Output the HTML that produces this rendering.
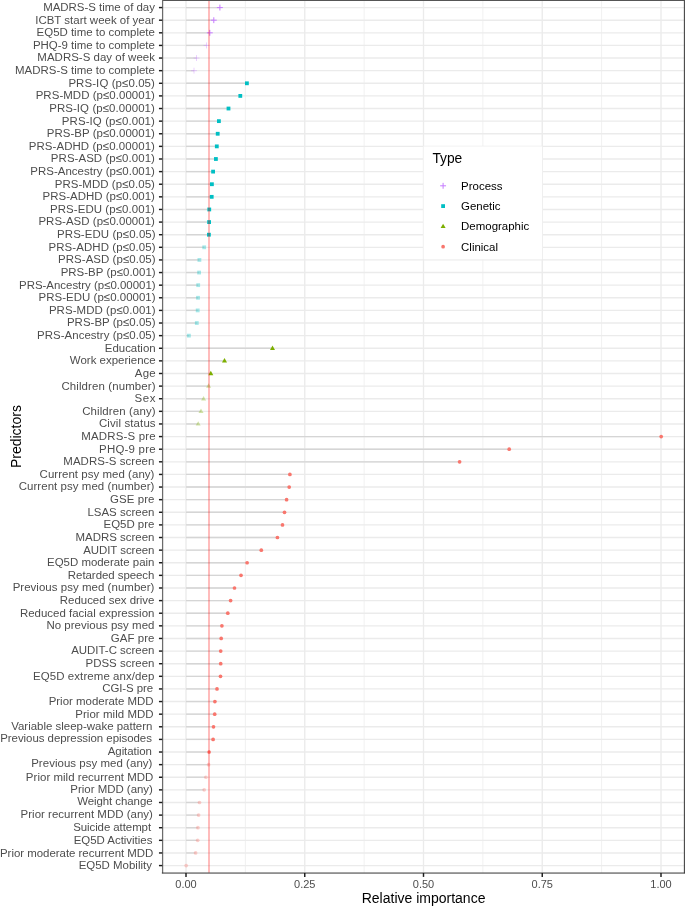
<!DOCTYPE html><html><head><meta charset="utf-8"><style>html,body{margin:0;padding:0;background:#fff}svg{display:block;will-change:transform}text{font-family:"Liberation Sans",sans-serif}</style></head><body>
<svg width="685" height="906" viewBox="0 0 685 906">
<rect width="685" height="906" fill="#fff"/>
<g stroke="#ebebeb" fill="none">
<line x1="245.38" x2="245.38" y1="0.2" y2="872.8" stroke-width="0.68"/>
<line x1="364.12" x2="364.12" y1="0.2" y2="872.8" stroke-width="0.68"/>
<line x1="482.88" x2="482.88" y1="0.2" y2="872.8" stroke-width="0.68"/>
<line x1="601.62" x2="601.62" y1="0.2" y2="872.8" stroke-width="0.68"/>
<line x1="186.00" x2="186.00" y1="0.2" y2="872.8" stroke-width="1.36"/>
<line x1="304.75" x2="304.75" y1="0.2" y2="872.8" stroke-width="1.36"/>
<line x1="423.50" x2="423.50" y1="0.2" y2="872.8" stroke-width="1.36"/>
<line x1="542.25" x2="542.25" y1="0.2" y2="872.8" stroke-width="1.36"/>
<line x1="661.00" x2="661.00" y1="0.2" y2="872.8" stroke-width="1.36"/>
<line x1="162.6" x2="684.6" y1="7.58" y2="7.58" stroke-width="1.36"/>
<line x1="162.6" x2="684.6" y1="20.20" y2="20.20" stroke-width="1.36"/>
<line x1="162.6" x2="684.6" y1="32.82" y2="32.82" stroke-width="1.36"/>
<line x1="162.6" x2="684.6" y1="45.43" y2="45.43" stroke-width="1.36"/>
<line x1="162.6" x2="684.6" y1="58.05" y2="58.05" stroke-width="1.36"/>
<line x1="162.6" x2="684.6" y1="70.67" y2="70.67" stroke-width="1.36"/>
<line x1="162.6" x2="684.6" y1="83.29" y2="83.29" stroke-width="1.36"/>
<line x1="162.6" x2="684.6" y1="95.90" y2="95.90" stroke-width="1.36"/>
<line x1="162.6" x2="684.6" y1="108.52" y2="108.52" stroke-width="1.36"/>
<line x1="162.6" x2="684.6" y1="121.14" y2="121.14" stroke-width="1.36"/>
<line x1="162.6" x2="684.6" y1="133.76" y2="133.76" stroke-width="1.36"/>
<line x1="162.6" x2="684.6" y1="146.37" y2="146.37" stroke-width="1.36"/>
<line x1="162.6" x2="684.6" y1="158.99" y2="158.99" stroke-width="1.36"/>
<line x1="162.6" x2="684.6" y1="171.61" y2="171.61" stroke-width="1.36"/>
<line x1="162.6" x2="684.6" y1="184.23" y2="184.23" stroke-width="1.36"/>
<line x1="162.6" x2="684.6" y1="196.84" y2="196.84" stroke-width="1.36"/>
<line x1="162.6" x2="684.6" y1="209.46" y2="209.46" stroke-width="1.36"/>
<line x1="162.6" x2="684.6" y1="222.08" y2="222.08" stroke-width="1.36"/>
<line x1="162.6" x2="684.6" y1="234.70" y2="234.70" stroke-width="1.36"/>
<line x1="162.6" x2="684.6" y1="247.31" y2="247.31" stroke-width="1.36"/>
<line x1="162.6" x2="684.6" y1="259.93" y2="259.93" stroke-width="1.36"/>
<line x1="162.6" x2="684.6" y1="272.55" y2="272.55" stroke-width="1.36"/>
<line x1="162.6" x2="684.6" y1="285.17" y2="285.17" stroke-width="1.36"/>
<line x1="162.6" x2="684.6" y1="297.78" y2="297.78" stroke-width="1.36"/>
<line x1="162.6" x2="684.6" y1="310.40" y2="310.40" stroke-width="1.36"/>
<line x1="162.6" x2="684.6" y1="323.02" y2="323.02" stroke-width="1.36"/>
<line x1="162.6" x2="684.6" y1="335.64" y2="335.64" stroke-width="1.36"/>
<line x1="162.6" x2="684.6" y1="348.26" y2="348.26" stroke-width="1.36"/>
<line x1="162.6" x2="684.6" y1="360.87" y2="360.87" stroke-width="1.36"/>
<line x1="162.6" x2="684.6" y1="373.49" y2="373.49" stroke-width="1.36"/>
<line x1="162.6" x2="684.6" y1="386.11" y2="386.11" stroke-width="1.36"/>
<line x1="162.6" x2="684.6" y1="398.73" y2="398.73" stroke-width="1.36"/>
<line x1="162.6" x2="684.6" y1="411.34" y2="411.34" stroke-width="1.36"/>
<line x1="162.6" x2="684.6" y1="423.96" y2="423.96" stroke-width="1.36"/>
<line x1="162.6" x2="684.6" y1="436.58" y2="436.58" stroke-width="1.36"/>
<line x1="162.6" x2="684.6" y1="449.20" y2="449.20" stroke-width="1.36"/>
<line x1="162.6" x2="684.6" y1="461.81" y2="461.81" stroke-width="1.36"/>
<line x1="162.6" x2="684.6" y1="474.43" y2="474.43" stroke-width="1.36"/>
<line x1="162.6" x2="684.6" y1="487.05" y2="487.05" stroke-width="1.36"/>
<line x1="162.6" x2="684.6" y1="499.67" y2="499.67" stroke-width="1.36"/>
<line x1="162.6" x2="684.6" y1="512.28" y2="512.28" stroke-width="1.36"/>
<line x1="162.6" x2="684.6" y1="524.90" y2="524.90" stroke-width="1.36"/>
<line x1="162.6" x2="684.6" y1="537.52" y2="537.52" stroke-width="1.36"/>
<line x1="162.6" x2="684.6" y1="550.14" y2="550.14" stroke-width="1.36"/>
<line x1="162.6" x2="684.6" y1="562.75" y2="562.75" stroke-width="1.36"/>
<line x1="162.6" x2="684.6" y1="575.37" y2="575.37" stroke-width="1.36"/>
<line x1="162.6" x2="684.6" y1="587.99" y2="587.99" stroke-width="1.36"/>
<line x1="162.6" x2="684.6" y1="600.61" y2="600.61" stroke-width="1.36"/>
<line x1="162.6" x2="684.6" y1="613.22" y2="613.22" stroke-width="1.36"/>
<line x1="162.6" x2="684.6" y1="625.84" y2="625.84" stroke-width="1.36"/>
<line x1="162.6" x2="684.6" y1="638.46" y2="638.46" stroke-width="1.36"/>
<line x1="162.6" x2="684.6" y1="651.08" y2="651.08" stroke-width="1.36"/>
<line x1="162.6" x2="684.6" y1="663.70" y2="663.70" stroke-width="1.36"/>
<line x1="162.6" x2="684.6" y1="676.31" y2="676.31" stroke-width="1.36"/>
<line x1="162.6" x2="684.6" y1="688.93" y2="688.93" stroke-width="1.36"/>
<line x1="162.6" x2="684.6" y1="701.55" y2="701.55" stroke-width="1.36"/>
<line x1="162.6" x2="684.6" y1="714.17" y2="714.17" stroke-width="1.36"/>
<line x1="162.6" x2="684.6" y1="726.78" y2="726.78" stroke-width="1.36"/>
<line x1="162.6" x2="684.6" y1="739.40" y2="739.40" stroke-width="1.36"/>
<line x1="162.6" x2="684.6" y1="752.02" y2="752.02" stroke-width="1.36"/>
<line x1="162.6" x2="684.6" y1="764.64" y2="764.64" stroke-width="1.36"/>
<line x1="162.6" x2="684.6" y1="777.25" y2="777.25" stroke-width="1.36"/>
<line x1="162.6" x2="684.6" y1="789.87" y2="789.87" stroke-width="1.36"/>
<line x1="162.6" x2="684.6" y1="802.49" y2="802.49" stroke-width="1.36"/>
<line x1="162.6" x2="684.6" y1="815.11" y2="815.11" stroke-width="1.36"/>
<line x1="162.6" x2="684.6" y1="827.72" y2="827.72" stroke-width="1.36"/>
<line x1="162.6" x2="684.6" y1="840.34" y2="840.34" stroke-width="1.36"/>
<line x1="162.6" x2="684.6" y1="852.96" y2="852.96" stroke-width="1.36"/>
<line x1="162.6" x2="684.6" y1="865.58" y2="865.58" stroke-width="1.36"/>
</g>
<g stroke="#d5d5d5" stroke-width="1.36">
<line x1="186.0" x2="219.90" y1="7.58" y2="7.58"/>
<line x1="186.0" x2="213.80" y1="20.20" y2="20.20"/>
<line x1="186.0" x2="209.80" y1="32.82" y2="32.82"/>
<line x1="186.0" x2="206.50" y1="45.43" y2="45.43"/>
<line x1="186.0" x2="196.50" y1="58.05" y2="58.05"/>
<line x1="186.0" x2="194.00" y1="70.67" y2="70.67"/>
<line x1="186.0" x2="246.90" y1="83.29" y2="83.29"/>
<line x1="186.0" x2="240.30" y1="95.90" y2="95.90"/>
<line x1="186.0" x2="228.50" y1="108.52" y2="108.52"/>
<line x1="186.0" x2="218.90" y1="121.14" y2="121.14"/>
<line x1="186.0" x2="217.70" y1="133.76" y2="133.76"/>
<line x1="186.0" x2="216.80" y1="146.37" y2="146.37"/>
<line x1="186.0" x2="215.90" y1="158.99" y2="158.99"/>
<line x1="186.0" x2="213.10" y1="171.61" y2="171.61"/>
<line x1="186.0" x2="211.90" y1="184.23" y2="184.23"/>
<line x1="186.0" x2="211.70" y1="196.84" y2="196.84"/>
<line x1="186.0" x2="209.25" y1="209.46" y2="209.46"/>
<line x1="186.0" x2="209.10" y1="222.08" y2="222.08"/>
<line x1="186.0" x2="208.90" y1="234.70" y2="234.70"/>
<line x1="186.0" x2="204.20" y1="247.31" y2="247.31"/>
<line x1="186.0" x2="199.40" y1="259.93" y2="259.93"/>
<line x1="186.0" x2="199.10" y1="272.55" y2="272.55"/>
<line x1="186.0" x2="198.20" y1="285.17" y2="285.17"/>
<line x1="186.0" x2="198.00" y1="297.78" y2="297.78"/>
<line x1="186.0" x2="197.70" y1="310.40" y2="310.40"/>
<line x1="186.0" x2="196.80" y1="323.02" y2="323.02"/>
<line x1="186.0" x2="188.90" y1="335.64" y2="335.64"/>
<line x1="186.0" x2="272.50" y1="348.26" y2="348.26"/>
<line x1="186.0" x2="224.50" y1="360.87" y2="360.87"/>
<line x1="186.0" x2="210.80" y1="373.49" y2="373.49"/>
<line x1="186.0" x2="208.60" y1="386.11" y2="386.11"/>
<line x1="186.0" x2="203.60" y1="398.73" y2="398.73"/>
<line x1="186.0" x2="201.00" y1="411.34" y2="411.34"/>
<line x1="186.0" x2="198.20" y1="423.96" y2="423.96"/>
<line x1="186.0" x2="661.20" y1="436.58" y2="436.58"/>
<line x1="186.0" x2="509.20" y1="449.20" y2="449.20"/>
<line x1="186.0" x2="459.60" y1="461.81" y2="461.81"/>
<line x1="186.0" x2="289.90" y1="474.43" y2="474.43"/>
<line x1="186.0" x2="289.20" y1="487.05" y2="487.05"/>
<line x1="186.0" x2="286.60" y1="499.67" y2="499.67"/>
<line x1="186.0" x2="284.50" y1="512.28" y2="512.28"/>
<line x1="186.0" x2="282.50" y1="524.90" y2="524.90"/>
<line x1="186.0" x2="277.40" y1="537.52" y2="537.52"/>
<line x1="186.0" x2="261.30" y1="550.14" y2="550.14"/>
<line x1="186.0" x2="247.10" y1="562.75" y2="562.75"/>
<line x1="186.0" x2="241.00" y1="575.37" y2="575.37"/>
<line x1="186.0" x2="234.50" y1="587.99" y2="587.99"/>
<line x1="186.0" x2="230.60" y1="600.61" y2="600.61"/>
<line x1="186.0" x2="227.80" y1="613.22" y2="613.22"/>
<line x1="186.0" x2="221.90" y1="625.84" y2="625.84"/>
<line x1="186.0" x2="221.20" y1="638.46" y2="638.46"/>
<line x1="186.0" x2="220.70" y1="651.08" y2="651.08"/>
<line x1="186.0" x2="220.70" y1="663.70" y2="663.70"/>
<line x1="186.0" x2="220.50" y1="676.31" y2="676.31"/>
<line x1="186.0" x2="217.00" y1="688.93" y2="688.93"/>
<line x1="186.0" x2="214.90" y1="701.55" y2="701.55"/>
<line x1="186.0" x2="214.70" y1="714.17" y2="714.17"/>
<line x1="186.0" x2="213.50" y1="726.78" y2="726.78"/>
<line x1="186.0" x2="213.10" y1="739.40" y2="739.40"/>
<line x1="186.0" x2="209.10" y1="752.02" y2="752.02"/>
<line x1="186.0" x2="208.60" y1="764.64" y2="764.64"/>
<line x1="186.0" x2="205.90" y1="777.25" y2="777.25"/>
<line x1="186.0" x2="204.20" y1="789.87" y2="789.87"/>
<line x1="186.0" x2="199.50" y1="802.49" y2="802.49"/>
<line x1="186.0" x2="198.60" y1="815.11" y2="815.11"/>
<line x1="186.0" x2="197.90" y1="827.72" y2="827.72"/>
<line x1="186.0" x2="197.70" y1="840.34" y2="840.34"/>
<line x1="186.0" x2="195.60" y1="852.96" y2="852.96"/>
</g>
<path d="M216.95 7.58H222.85M219.90 4.63V10.53" stroke="#C77CFF" stroke-width="1.0" fill="none"/>
<path d="M210.85 20.20H216.75M213.80 17.25V23.15" stroke="#C77CFF" stroke-width="1.0" fill="none"/>
<path d="M206.85 32.82H212.75M209.80 29.87V35.77" stroke="#C77CFF" stroke-width="1.0" fill="none"/>
<path d="M203.55 45.43H209.45M206.50 42.48V48.38" stroke="#C77CFF" stroke-width="1.0" fill="none" opacity="0.35"/>
<path d="M193.55 58.05H199.45M196.50 55.10V61.00" stroke="#C77CFF" stroke-width="1.0" fill="none" opacity="0.35"/>
<path d="M191.05 70.67H196.95M194.00 67.72V73.62" stroke="#C77CFF" stroke-width="1.0" fill="none" opacity="0.35"/>
<rect x="245.00" y="81.39" width="3.8" height="3.8" fill="#00BFC4"/>
<rect x="238.40" y="94.00" width="3.8" height="3.8" fill="#00BFC4"/>
<rect x="226.60" y="106.62" width="3.8" height="3.8" fill="#00BFC4"/>
<rect x="217.00" y="119.24" width="3.8" height="3.8" fill="#00BFC4"/>
<rect x="215.80" y="131.86" width="3.8" height="3.8" fill="#00BFC4"/>
<rect x="214.90" y="144.47" width="3.8" height="3.8" fill="#00BFC4"/>
<rect x="214.00" y="157.09" width="3.8" height="3.8" fill="#00BFC4"/>
<rect x="211.20" y="169.71" width="3.8" height="3.8" fill="#00BFC4"/>
<rect x="210.00" y="182.33" width="3.8" height="3.8" fill="#00BFC4"/>
<rect x="209.80" y="194.94" width="3.8" height="3.8" fill="#00BFC4"/>
<rect x="207.35" y="207.56" width="3.8" height="3.8" fill="#00BFC4"/>
<rect x="207.20" y="220.18" width="3.8" height="3.8" fill="#00BFC4"/>
<rect x="207.00" y="232.80" width="3.8" height="3.8" fill="#00BFC4"/>
<rect x="202.30" y="245.41" width="3.8" height="3.8" fill="#00BFC4" opacity="0.35"/>
<rect x="197.50" y="258.03" width="3.8" height="3.8" fill="#00BFC4" opacity="0.35"/>
<rect x="197.20" y="270.65" width="3.8" height="3.8" fill="#00BFC4" opacity="0.35"/>
<rect x="196.30" y="283.27" width="3.8" height="3.8" fill="#00BFC4" opacity="0.35"/>
<rect x="196.10" y="295.88" width="3.8" height="3.8" fill="#00BFC4" opacity="0.35"/>
<rect x="195.80" y="308.50" width="3.8" height="3.8" fill="#00BFC4" opacity="0.35"/>
<rect x="194.90" y="321.12" width="3.8" height="3.8" fill="#00BFC4" opacity="0.35"/>
<rect x="187.00" y="333.74" width="3.8" height="3.8" fill="#00BFC4" opacity="0.35"/>
<path d="M272.50 345.51L275.00 349.91H270.00Z" fill="#7CAE00"/>
<path d="M224.50 358.12L227.00 362.52H222.00Z" fill="#7CAE00"/>
<path d="M210.80 370.74L213.30 375.14H208.30Z" fill="#7CAE00"/>
<path d="M208.60 383.36L211.10 387.76H206.10Z" fill="#7CAE00" opacity="0.35"/>
<path d="M203.60 395.98L206.10 400.38H201.10Z" fill="#7CAE00" opacity="0.35"/>
<path d="M201.00 408.59L203.50 412.99H198.50Z" fill="#7CAE00" opacity="0.35"/>
<path d="M198.20 421.21L200.70 425.61H195.70Z" fill="#7CAE00" opacity="0.35"/>
<circle cx="661.20" cy="436.58" r="1.85" fill="#F8766D"/>
<circle cx="509.20" cy="449.20" r="1.85" fill="#F8766D"/>
<circle cx="459.60" cy="461.81" r="1.85" fill="#F8766D"/>
<circle cx="289.90" cy="474.43" r="1.85" fill="#F8766D"/>
<circle cx="289.20" cy="487.05" r="1.85" fill="#F8766D"/>
<circle cx="286.60" cy="499.67" r="1.85" fill="#F8766D"/>
<circle cx="284.50" cy="512.28" r="1.85" fill="#F8766D"/>
<circle cx="282.50" cy="524.90" r="1.85" fill="#F8766D"/>
<circle cx="277.40" cy="537.52" r="1.85" fill="#F8766D"/>
<circle cx="261.30" cy="550.14" r="1.85" fill="#F8766D"/>
<circle cx="247.10" cy="562.75" r="1.85" fill="#F8766D"/>
<circle cx="241.00" cy="575.37" r="1.85" fill="#F8766D"/>
<circle cx="234.50" cy="587.99" r="1.85" fill="#F8766D"/>
<circle cx="230.60" cy="600.61" r="1.85" fill="#F8766D"/>
<circle cx="227.80" cy="613.22" r="1.85" fill="#F8766D"/>
<circle cx="221.90" cy="625.84" r="1.85" fill="#F8766D"/>
<circle cx="221.20" cy="638.46" r="1.85" fill="#F8766D"/>
<circle cx="220.70" cy="651.08" r="1.85" fill="#F8766D"/>
<circle cx="220.70" cy="663.70" r="1.85" fill="#F8766D"/>
<circle cx="220.50" cy="676.31" r="1.85" fill="#F8766D"/>
<circle cx="217.00" cy="688.93" r="1.85" fill="#F8766D"/>
<circle cx="214.90" cy="701.55" r="1.85" fill="#F8766D"/>
<circle cx="214.70" cy="714.17" r="1.85" fill="#F8766D"/>
<circle cx="213.50" cy="726.78" r="1.85" fill="#F8766D"/>
<circle cx="213.10" cy="739.40" r="1.85" fill="#F8766D"/>
<circle cx="209.10" cy="752.02" r="1.85" fill="#F8766D"/>
<circle cx="208.60" cy="764.64" r="1.85" fill="#F8766D" opacity="0.35"/>
<circle cx="205.90" cy="777.25" r="1.85" fill="#F8766D" opacity="0.35"/>
<circle cx="204.20" cy="789.87" r="1.85" fill="#F8766D" opacity="0.35"/>
<circle cx="199.50" cy="802.49" r="1.85" fill="#F8766D" opacity="0.35"/>
<circle cx="198.60" cy="815.11" r="1.85" fill="#F8766D" opacity="0.35"/>
<circle cx="197.90" cy="827.72" r="1.85" fill="#F8766D" opacity="0.35"/>
<circle cx="197.70" cy="840.34" r="1.85" fill="#F8766D" opacity="0.35"/>
<circle cx="195.60" cy="852.96" r="1.85" fill="#F8766D" opacity="0.35"/>
<circle cx="186.20" cy="865.58" r="1.85" fill="#F8766D" opacity="0.35"/>
<line x1="209" x2="209" y1="0.2" y2="872.8" stroke="#ff0000" stroke-opacity="0.28" stroke-width="1.9"/>
<rect x="423.6" y="146.4" width="118.6" height="112.8" fill="#fff"/>
<text x="432.4" y="163.3" font-size="14.0" fill="#000" textLength="29.9" lengthAdjust="spacingAndGlyphs">Type</text>
<path d="M440.15 185.80H446.05M443.10 182.85V188.75" stroke="#C77CFF" stroke-width="1.0" fill="none"/>
<text x="461.1" y="189.70" font-size="11.46" fill="#000">Process</text>
<rect x="441.20" y="204.20" width="3.8" height="3.8" fill="#00BFC4"/>
<text x="461.1" y="210.00" font-size="11.46" fill="#000">Genetic</text>
<path d="M443.10 223.65L445.60 228.05H440.60Z" fill="#7CAE00"/>
<text x="461.1" y="230.30" font-size="11.46" fill="#000">Demographic</text>
<circle cx="443.10" cy="246.70" r="1.85" fill="#F8766D"/>
<text x="461.1" y="250.60" font-size="11.46" fill="#000">Clinical</text>
<line x1="162.0" x2="685" y1="0.25" y2="0.25" stroke="#555" stroke-width="1.5"/>
<line x1="684.6" x2="684.6" y1="0" y2="873.3499999999999" stroke="#4d4d4d" stroke-width="1.5"/>
<line x1="162.6" x2="162.6" y1="0" y2="873.3499999999999" stroke="#6c6c6c" stroke-width="1.25"/>
<line x1="161.85" x2="685" y1="873.05" y2="873.05" stroke="#333" stroke-width="1.0"/>
<g stroke="#1c1c1c" stroke-width="1.45">
<line x1="158.95" x2="162.30" y1="7.58" y2="7.58"/>
<line x1="158.95" x2="162.30" y1="20.20" y2="20.20"/>
<line x1="158.95" x2="162.30" y1="32.82" y2="32.82"/>
<line x1="158.95" x2="162.30" y1="45.43" y2="45.43"/>
<line x1="158.95" x2="162.30" y1="58.05" y2="58.05"/>
<line x1="158.95" x2="162.30" y1="70.67" y2="70.67"/>
<line x1="158.95" x2="162.30" y1="83.29" y2="83.29"/>
<line x1="158.95" x2="162.30" y1="95.90" y2="95.90"/>
<line x1="158.95" x2="162.30" y1="108.52" y2="108.52"/>
<line x1="158.95" x2="162.30" y1="121.14" y2="121.14"/>
<line x1="158.95" x2="162.30" y1="133.76" y2="133.76"/>
<line x1="158.95" x2="162.30" y1="146.37" y2="146.37"/>
<line x1="158.95" x2="162.30" y1="158.99" y2="158.99"/>
<line x1="158.95" x2="162.30" y1="171.61" y2="171.61"/>
<line x1="158.95" x2="162.30" y1="184.23" y2="184.23"/>
<line x1="158.95" x2="162.30" y1="196.84" y2="196.84"/>
<line x1="158.95" x2="162.30" y1="209.46" y2="209.46"/>
<line x1="158.95" x2="162.30" y1="222.08" y2="222.08"/>
<line x1="158.95" x2="162.30" y1="234.70" y2="234.70"/>
<line x1="158.95" x2="162.30" y1="247.31" y2="247.31"/>
<line x1="158.95" x2="162.30" y1="259.93" y2="259.93"/>
<line x1="158.95" x2="162.30" y1="272.55" y2="272.55"/>
<line x1="158.95" x2="162.30" y1="285.17" y2="285.17"/>
<line x1="158.95" x2="162.30" y1="297.78" y2="297.78"/>
<line x1="158.95" x2="162.30" y1="310.40" y2="310.40"/>
<line x1="158.95" x2="162.30" y1="323.02" y2="323.02"/>
<line x1="158.95" x2="162.30" y1="335.64" y2="335.64"/>
<line x1="158.95" x2="162.30" y1="348.26" y2="348.26"/>
<line x1="158.95" x2="162.30" y1="360.87" y2="360.87"/>
<line x1="158.95" x2="162.30" y1="373.49" y2="373.49"/>
<line x1="158.95" x2="162.30" y1="386.11" y2="386.11"/>
<line x1="158.95" x2="162.30" y1="398.73" y2="398.73"/>
<line x1="158.95" x2="162.30" y1="411.34" y2="411.34"/>
<line x1="158.95" x2="162.30" y1="423.96" y2="423.96"/>
<line x1="158.95" x2="162.30" y1="436.58" y2="436.58"/>
<line x1="158.95" x2="162.30" y1="449.20" y2="449.20"/>
<line x1="158.95" x2="162.30" y1="461.81" y2="461.81"/>
<line x1="158.95" x2="162.30" y1="474.43" y2="474.43"/>
<line x1="158.95" x2="162.30" y1="487.05" y2="487.05"/>
<line x1="158.95" x2="162.30" y1="499.67" y2="499.67"/>
<line x1="158.95" x2="162.30" y1="512.28" y2="512.28"/>
<line x1="158.95" x2="162.30" y1="524.90" y2="524.90"/>
<line x1="158.95" x2="162.30" y1="537.52" y2="537.52"/>
<line x1="158.95" x2="162.30" y1="550.14" y2="550.14"/>
<line x1="158.95" x2="162.30" y1="562.75" y2="562.75"/>
<line x1="158.95" x2="162.30" y1="575.37" y2="575.37"/>
<line x1="158.95" x2="162.30" y1="587.99" y2="587.99"/>
<line x1="158.95" x2="162.30" y1="600.61" y2="600.61"/>
<line x1="158.95" x2="162.30" y1="613.22" y2="613.22"/>
<line x1="158.95" x2="162.30" y1="625.84" y2="625.84"/>
<line x1="158.95" x2="162.30" y1="638.46" y2="638.46"/>
<line x1="158.95" x2="162.30" y1="651.08" y2="651.08"/>
<line x1="158.95" x2="162.30" y1="663.70" y2="663.70"/>
<line x1="158.95" x2="162.30" y1="676.31" y2="676.31"/>
<line x1="158.95" x2="162.30" y1="688.93" y2="688.93"/>
<line x1="158.95" x2="162.30" y1="701.55" y2="701.55"/>
<line x1="158.95" x2="162.30" y1="714.17" y2="714.17"/>
<line x1="158.95" x2="162.30" y1="726.78" y2="726.78"/>
<line x1="158.95" x2="162.30" y1="739.40" y2="739.40"/>
<line x1="158.95" x2="162.30" y1="752.02" y2="752.02"/>
<line x1="158.95" x2="162.30" y1="764.64" y2="764.64"/>
<line x1="158.95" x2="162.30" y1="777.25" y2="777.25"/>
<line x1="158.95" x2="162.30" y1="789.87" y2="789.87"/>
<line x1="158.95" x2="162.30" y1="802.49" y2="802.49"/>
<line x1="158.95" x2="162.30" y1="815.11" y2="815.11"/>
<line x1="158.95" x2="162.30" y1="827.72" y2="827.72"/>
<line x1="158.95" x2="162.30" y1="840.34" y2="840.34"/>
<line x1="158.95" x2="162.30" y1="852.96" y2="852.96"/>
<line x1="158.95" x2="162.30" y1="865.58" y2="865.58"/>
<line x1="186.00" x2="186.00" y1="873.00" y2="876.90"/>
<line x1="304.75" x2="304.75" y1="873.00" y2="876.90"/>
<line x1="423.50" x2="423.50" y1="873.00" y2="876.90"/>
<line x1="542.25" x2="542.25" y1="873.00" y2="876.90"/>
<line x1="661.00" x2="661.00" y1="873.00" y2="876.90"/>
</g>
<g font-size="11.46" fill="#4d4d4d" text-anchor="end">
<text x="154.90" y="10.98" textLength="111.72" lengthAdjust="spacing">MADRS-S time of day</text>
<text x="154.90" y="23.60" textLength="119.65" lengthAdjust="spacing">ICBT start week of year</text>
<text x="154.90" y="36.22" textLength="118.31" lengthAdjust="spacing">EQ5D time to complete</text>
<text x="154.90" y="48.83" textLength="121.92" lengthAdjust="spacing">PHQ-9 time to complete</text>
<text x="154.90" y="61.45" textLength="117.53" lengthAdjust="spacing">MADRS-S day of week</text>
<text x="154.90" y="74.07" textLength="139.83" lengthAdjust="spacing">MADRS-S time to complete</text>
<text x="154.90" y="86.69" textLength="86.52" lengthAdjust="spacing">PRS-IQ (p≤0.05)</text>
<text x="154.90" y="99.30" textLength="119.21" lengthAdjust="spacing">PRS-MDD (p≤0.00001)</text>
<text x="154.90" y="111.92" textLength="105.73" lengthAdjust="spacing">PRS-IQ (p≤0.00001)</text>
<text x="154.90" y="124.54" textLength="93.09" lengthAdjust="spacing">PRS-IQ (p≤0.001)</text>
<text x="154.90" y="137.16" textLength="108.21" lengthAdjust="spacing">PRS-BP (p≤0.00001)</text>
<text x="154.90" y="149.77" textLength="126.09" lengthAdjust="spacing">PRS-ADHD (p≤0.00001)</text>
<text x="154.90" y="162.39" textLength="104.05" lengthAdjust="spacing">PRS-ASD (p≤0.001)</text>
<text x="154.90" y="175.01" textLength="124.65" lengthAdjust="spacing">PRS-Ancestry (p≤0.001)</text>
<text x="154.90" y="187.63" textLength="100.20" lengthAdjust="spacing">PRS-MDD (p≤0.05)</text>
<text x="154.90" y="200.24" textLength="112.35" lengthAdjust="spacing">PRS-ADHD (p≤0.001)</text>
<text x="154.90" y="212.86" textLength="104.87" lengthAdjust="spacing">PRS-EDU (p≤0.001)</text>
<text x="154.90" y="225.48" textLength="116.48" lengthAdjust="spacing">PRS-ASD (p≤0.00001)</text>
<text x="155.60" y="238.10" textLength="98.51" lengthAdjust="spacing">PRS-EDU (p≤0.05)</text>
<text x="155.60" y="250.71" textLength="107.18" lengthAdjust="spacing">PRS-ADHD (p≤0.05)</text>
<text x="155.60" y="263.33" textLength="97.57" lengthAdjust="spacing">PRS-ASD (p≤0.05)</text>
<text x="155.60" y="275.95" textLength="94.96" lengthAdjust="spacing">PRS-BP (p≤0.001)</text>
<text x="155.60" y="288.57" textLength="136.60" lengthAdjust="spacing">PRS-Ancestry (p≤0.00001)</text>
<text x="155.60" y="301.18" textLength="117.02" lengthAdjust="spacing">PRS-EDU (p≤0.00001)</text>
<text x="155.60" y="313.80" textLength="106.68" lengthAdjust="spacing">PRS-MDD (p≤0.001)</text>
<text x="155.60" y="326.42" textLength="88.70" lengthAdjust="spacing">PRS-BP (p≤0.05)</text>
<text x="155.60" y="339.04" textLength="118.59" lengthAdjust="spacing">PRS-Ancestry (p≤0.05)</text>
<text x="155.60" y="351.66" textLength="50.75" lengthAdjust="spacing">Education</text>
<text x="155.60" y="364.27" textLength="85.73" lengthAdjust="spacing">Work experience</text>
<text x="155.60" y="376.89" textLength="20.79" lengthAdjust="spacing">Age</text>
<text x="155.60" y="389.51" textLength="94.20" lengthAdjust="spacing">Children (number)</text>
<text x="155.60" y="402.13" textLength="21.15" lengthAdjust="spacing">Sex</text>
<text x="155.60" y="414.74" textLength="73.44" lengthAdjust="spacing">Children (any)</text>
<text x="155.60" y="427.36" textLength="56.67" lengthAdjust="spacing">Civil status</text>
<text x="155.60" y="439.98" textLength="74.26" lengthAdjust="spacing">MADRS-S pre</text>
<text x="155.60" y="452.60" textLength="56.55" lengthAdjust="spacing">PHQ-9 pre</text>
<text x="154.40" y="465.21" textLength="91.08" lengthAdjust="spacing">MADRS-S screen</text>
<text x="154.40" y="477.83" textLength="114.84" lengthAdjust="spacing">Current psy med (any)</text>
<text x="154.40" y="489.95" textLength="135.71" lengthAdjust="spacing">Current psy med (number)</text>
<text x="154.40" y="503.07" textLength="44.34" lengthAdjust="spacing">GSE pre</text>
<text x="154.40" y="515.68" textLength="66.96" lengthAdjust="spacing">LSAS screen</text>
<text x="154.40" y="528.30" textLength="50.84" lengthAdjust="spacing">EQ5D pre</text>
<text x="154.40" y="540.92" textLength="78.92" lengthAdjust="spacing">MADRS screen</text>
<text x="154.40" y="553.54" textLength="71.22" lengthAdjust="spacing">AUDIT screen</text>
<text x="154.40" y="566.15" textLength="107.29" lengthAdjust="spacing">EQ5D moderate pain</text>
<text x="154.40" y="578.77" textLength="86.53" lengthAdjust="spacing">Retarded speech</text>
<text x="154.40" y="591.39" textLength="141.77" lengthAdjust="spacing">Previous psy med (number)</text>
<text x="154.40" y="604.01" textLength="94.56" lengthAdjust="spacing">Reduced sex drive</text>
<text x="154.40" y="616.62" textLength="134.44" lengthAdjust="spacing">Reduced facial expression</text>
<text x="154.40" y="628.54" textLength="107.99" lengthAdjust="spacing">No previous psy med</text>
<text x="154.40" y="641.86" textLength="43.68" lengthAdjust="spacing">GAF pre</text>
<text x="154.40" y="654.48" textLength="83.18" lengthAdjust="spacing">AUDIT-C screen</text>
<text x="154.40" y="667.10" textLength="68.85" lengthAdjust="spacing">PDSS screen</text>
<text x="154.40" y="679.71" textLength="121.39" lengthAdjust="spacing">EQ5D extreme anx/dep</text>
<text x="153.10" y="692.33" textLength="50.86" lengthAdjust="spacing">CGI-S pre</text>
<text x="153.60" y="704.95" textLength="104.92" lengthAdjust="spacing">Prior moderate MDD</text>
<text x="153.60" y="717.57" textLength="78.34" lengthAdjust="spacing">Prior mild MDD</text>
<text x="152.40" y="730.38" textLength="141.23" lengthAdjust="spacing">Variable sleep-wake pattern</text>
<text x="151.90" y="741.60" textLength="151.71" lengthAdjust="spacing">Previous depression episodes</text>
<text x="151.90" y="754.92" textLength="44.18" lengthAdjust="spacing">Agitation</text>
<text x="152.40" y="766.54" textLength="121.21" lengthAdjust="spacing">Previous psy med (any)</text>
<text x="153.40" y="780.95" textLength="127.54" lengthAdjust="spacing">Prior mild recurrent MDD</text>
<text x="152.90" y="793.27" textLength="82.53" lengthAdjust="spacing">Prior MDD (any)</text>
<text x="152.60" y="805.39" textLength="75.40" lengthAdjust="spacing">Weight change</text>
<text x="152.90" y="817.91" textLength="132.33" lengthAdjust="spacing">Prior recurrent MDD (any)</text>
<text x="151.10" y="831.12" textLength="77.95" lengthAdjust="spacing">Suicide attempt</text>
<text x="152.40" y="843.74" textLength="78.74" lengthAdjust="spacing">EQ5D Activities</text>
<text x="153.40" y="856.96" textLength="153.43" lengthAdjust="spacing">Prior moderate recurrent MDD</text>
<text x="151.90" y="868.98" textLength="73.20" lengthAdjust="spacing">EQ5D Mobility</text>
</g>
<g font-size="11.0" fill="#4d4d4d" text-anchor="middle">
<text x="186.00" y="887.6">0.00</text>
<text x="304.75" y="887.6">0.25</text>
<text x="423.50" y="887.6">0.50</text>
<text x="542.25" y="887.6">0.75</text>
<text x="661.00" y="887.6">1.00</text>
</g>
<text x="423.6" y="902.9" font-size="14.0" text-anchor="middle" fill="#000">Relative importance</text>
<text transform="translate(21.3 436.6) rotate(-90)" font-size="14.0" text-anchor="middle" fill="#000">Predictors</text>
</svg></body></html>
